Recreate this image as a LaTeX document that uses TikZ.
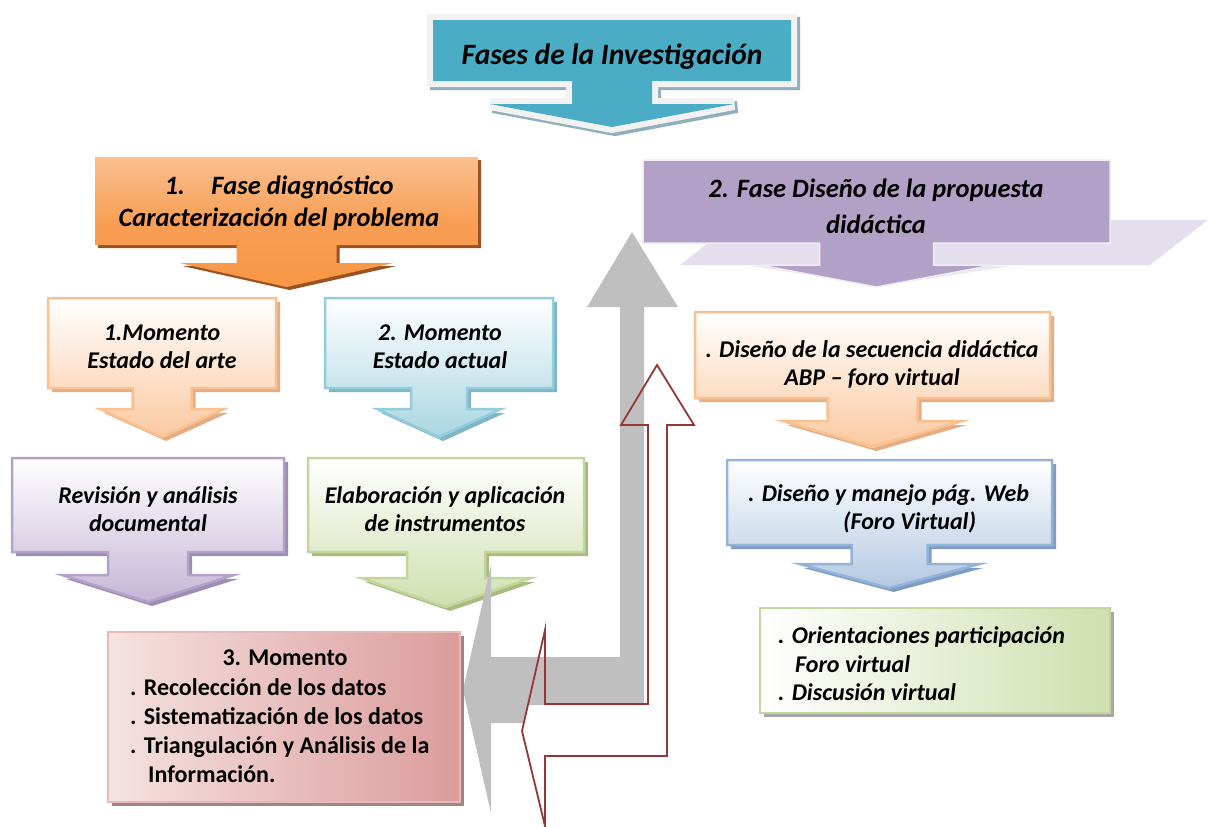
\documentclass[tikz,border=0pt]{standalone}
\usepackage{fontspec}
\setmainfont{Carlito}
\definecolor{teal1}{HTML}{4BACC6}
\definecolor{tealshadow}{HTML}{8FAFBB}
\definecolor{frameL}{HTML}{F2F2F2}
\definecolor{orA}{HTML}{FAC090}
\definecolor{orB}{HTML}{F79646}
\definecolor{orShadow}{HTML}{9A5220}
\definecolor{purp}{HTML}{B2A1C7}
\definecolor{purpShadow}{HTML}{E4DFEC}
\definecolor{peachB}{HTML}{FAC08F}
\definecolor{peachF}{HTML}{FBC9A0}
\definecolor{peachS}{HTML}{E3AE84}
\definecolor{blueB}{HTML}{93CDDD}
\definecolor{blueF}{HTML}{A9D6E2}
\definecolor{blueS}{HTML}{7FB5C4}
\definecolor{lilacB}{HTML}{B3A2C7}
\definecolor{lilacF}{HTML}{C4B6D6}
\definecolor{lilacS}{HTML}{9D8CB3}
\definecolor{greenB}{HTML}{C3D69B}
\definecolor{greenF}{HTML}{CFDFAE}
\definecolor{greenS}{HTML}{A7BC7E}
\definecolor{blueMB}{HTML}{95B3D7}
\definecolor{blueMF}{HTML}{B3C8E2}
\definecolor{blueMS}{HTML}{7F9DC2}
\definecolor{redline}{HTML}{953735}
\definecolor{greyarrow}{HTML}{BFBFBF}
\definecolor{pinkA}{HTML}{F5E2E1}
\definecolor{pinkB}{HTML}{DB9C9B}
\definecolor{pinkS}{HTML}{A08585}
\newcommand{\callout}[9]{%
 \path[#1] (#2,#3) -- (#4,#3) -- (#4,#5) -- ({(#2+#4)/2+#6},#5) -- ({(#2+#4)/2+#6},#7) -- ({(#2+#4)/2+#8},#7) -- ({(#2+#4)/2},#9) -- ({(#2+#4)/2-#8},#7) -- ({(#2+#4)/2-#6},#7) -- ({(#2+#4)/2-#6},#5) -- (#2,#5) -- cycle;}
\tikzset{
 txt/.style={font=\fontsize{24}{28}\selectfont\bfseries\itshape, align=center, inner sep=0pt, text=black},
 bigtxt/.style={font=\fontsize{26.5}{32}\selectfont\bfseries\itshape, align=center, inner sep=0pt, text=black},
 boxshade/.style n args={2}{top color=white, bottom color=#2, draw=#1, line width=2.5pt, line join=miter},
 shadowfill/.style={fill=#1, shift={(4,4)}}
}
\begin{document}
\begin{tikzpicture}[x=1pt,y=-1pt]
\useasboundingbox[fill=white] (0,0) rectangle (1211,827);
% title
\callout{draw=tealshadow, line width=12pt, line join=miter, shift={(3,3)}}{433}{20}{791}{81}{40}{104}{122}{127}
\callout{draw=frameL, fill=frameL, line width=12pt, line join=miter}{433}{20}{791}{81}{40}{104}{122}{127}
\callout{fill=teal1}{433}{20}{791}{81}{40}{104}{122}{127}
% orange phase 1
\callout{fill=orShadow, shift={(3,3)}}{95}{157}{478}{245}{50}{263}{107}{287}
\callout{top color=orA, bottom color=orB, middle color=orB!80!orA}{95}{157}{478}{245}{50}{263}{107}{287}
% purple phase 2
\fill[purpShadow] (680,265) -- (1150,265) -- (1208,220) -- (1110,220) -- (1110,243) -- (708,243) -- cycle;
\fill[purpShadow!70!white] (750,266) -- (1012,266) -- (880,286) -- cycle;
\callout{fill=purp, draw=purpShadow!60!white, line width=1.5pt}{643}{160}{1110}{243}{57}{265}{117}{287}
% small boxes left
\callout{shadowfill=peachS}{48}{298}{276}{388}{29.5}{409}{62}{437}
\callout{boxshade={peachB}{peachF}}{48}{298}{276}{388}{29.5}{409}{62}{437}
\callout{shadowfill=blueS}{325}{298}{553}{388}{28}{409}{62}{437}
\callout{boxshade={blueB}{blueF}}{325}{298}{553}{388}{28}{409}{62}{437}
\callout{shadowfill=lilacS}{12}{458}{284}{552}{40}{575}{86}{602}
\callout{boxshade={lilacB}{lilacF}}{12}{458}{284}{552}{40}{575}{86}{602}
\callout{shadowfill=greenS}{308}{458}{584}{552}{39}{578}{85}{607}
\callout{boxshade={greenB}{greenF}}{308}{458}{584}{552}{39}{578}{85}{607}
% right boxes
\callout{shadowfill=peachS}{695}{312}{1050}{398}{45}{421}{90}{447}
\callout{boxshade={peachB}{peachF}}{695}{312}{1050}{398}{45}{421}{90}{447}
\callout{shadowfill=blueMS}{727}{460}{1052}{545}{38}{564}{90}{588}
\callout{boxshade={blueMB}{blueMF}}{727}{460}{1052}{545}{38}{564}{90}{588}
\fill[gray!70, shift={(4,4)}] (760,608) rectangle (1110,713);
\draw[greenB, line width=2.5pt, shading=axis, shading angle=-45, left color=white, right color=greenF] (760,608) rectangle (1110,713);
% grey bent arrow
\fill[greyarrow] (632,232) -- (678,307) -- (644,307) -- (644,705) -- (528,705) -- (524,723) -- (491,723) -- (491,813) -- (463,690) -- (491,565) -- (491,657) -- (620,657) -- (620,307) -- (587,307) -- cycle;
% red outline arrow
\draw[redline, line width=1.8pt, line join=miter] (657,365) -- (694,425) -- (667,425) -- (667,756) -- (545,756) -- (545,826) -- (522,731) -- (545,630) -- (545,704) -- (648,704) -- (648,425) -- (621,425) -- cycle;
% red box
\fill[pinkS, shift={(4,4)}] (108,632) rectangle (460,802);
\draw[pinkB!70!white, line width=2pt, left color=pinkA, right color=pinkB] (108,632) rectangle (460,802);
% texts
\node[font=\fontsize{29.5}{34}\selectfont\bfseries\itshape, inner sep=0pt] (title) at (612,57) {Fases de la Investigación};
\node[bigtxt] (f1) at (279,203) {1.\hspace{1.0em}Fase diagnóstico\\Caracterización del problema};
\node[bigtxt, font=\fontsize{26.5}{36}\selectfont\bfseries\itshape] (f2) at (876,206) {2. Fase Diseño de la propuesta\\didáctica};
\node[txt] (m1) at (162,347) {1.Momento\\Estado del arte};
\node[txt] (m2) at (440,347) {2. Momento\\Estado actual};
\node[txt] (rev) at (148,509) {Revisión y análisis\\documental};
\node[txt] (ela) at (445,509) {Elaboración y aplicación\\de instrumentos};
\node[txt] (dis) at (872,364) {. Diseño de la secuencia didáctica\\ABP – foro virtual};
\node[txt, align=left, anchor=west] (web) at (748,509) {. Diseño y manejo pág. Web\\\hspace*{95pt}(Foro Virtual)};
\node[txt, align=left, anchor=west, font=\fontsize{24}{28.5}\selectfont\bfseries\itshape] (ori) at (778,664) {. Orientaciones participación\\\hspace*{17pt}Foro virtual\\. Discusión virtual};
\node[font=\fontsize{24}{29}\selectfont\bfseries, inner sep=0pt] (m3) at (285,658) {3. Momento};
\node[font=\fontsize{24}{29}\selectfont\bfseries, inner sep=0pt, align=left, anchor=west] (m3list) at (130,731) {. Recolección de los datos\\. Sistematización de los datos\\. Triangulación y Análisis de la\\\hspace*{18pt}Información.};
\end{tikzpicture}
\end{document}
